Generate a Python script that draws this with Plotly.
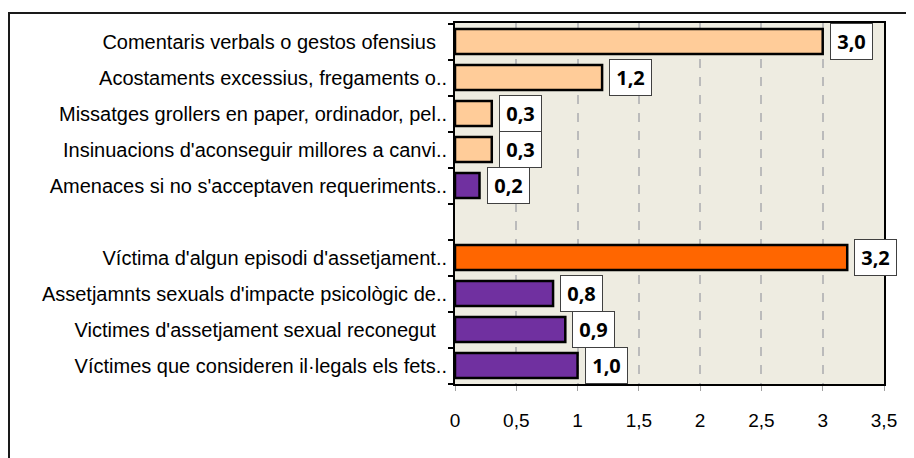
import plotly.graph_objects as go

categories = [
    "Comentaris verbals o gestos ofensius",
    "Acostaments excessius, fregaments o..",
    "Missatges grollers en paper, ordinador, pel..",
    "Insinuacions d'aconseguir millores a canvi..",
    "Amenaces si no s'acceptaven requeriments..",
    " ",
    "Víctima d'algun episodi d'assetjament..",
    "Assetjamnts sexuals d'impacte psicològic de..",
    "Victimes d'assetjament sexual reconegut",
    "Víctimes que consideren il·legals els fets..",
]
values = [3.0, 1.2, 0.3, 0.3, 0.2, None, 3.2, 0.8, 0.9, 1.0]
value_labels = ["3,0", "1,2", "0,3", "0,3", "0,2", "", "3,2", "0,8", "0,9", "1,0"]
colors = ["#FFCC99", "#FFCC99", "#FFCC99", "#FFCC99", "#7030A0", "#FFFFFF",
          "#FF6600", "#7030A0", "#7030A0", "#7030A0"]
x_ticks = [0, 0.5, 1, 1.5, 2, 2.5, 3, 3.5]
x_tick_labels = ["0", "0,5", "1", "1,5", "2", "2,5", "3", "3,5"]

# labels that are not truncated end a little further from the axis
tick_text = [c if c.endswith("..") or c.strip() == "" else c + "\u00a0\u00a0" for c in categories]

# page body has an 8px margin; figure sized to fit the window inside it
W, H = 906, 450
ML, MR, MT, MB = 447, 30, 15, 74
pw, ph = W - ML - MR, H - MT - MB

fig = go.Figure()
fig.add_trace(go.Bar(
    y=categories, x=values, orientation="h",
    marker=dict(color=colors, line=dict(color="#000000", width=2.5)),
    width=0.7, showlegend=False, hoverinfo="skip",
))

for c, v, t in zip(categories, values, value_labels):
    if v is None:
        continue
    fig.add_annotation(
        x=v, y=c, xref="x", yref="y", text=t, showarrow=False,
        xanchor="left", yanchor="middle", xshift=7,
        width=41, height=35, align="center", valign="middle",
        bgcolor="#FFFFFF", bordercolor="#404040", borderwidth=1, borderpad=0,
        font=dict(family="Open Sans", size=20, color="#000000", weight="bold"),
    )

# outer chart border (extends beyond the window on the right and bottom)
fig.add_shape(
    type="rect", xref="paper", yref="paper",
    x0=(1 - ML) / pw, x1=(930 - ML) / pw,
    y0=(H - MB - 470) / ph, y1=(H - MB - 5) / ph,
    line=dict(color="#1a1a1a", width=2), fillcolor="rgba(0,0,0,0)", layer="below",
)

fig.update_layout(
    width=W, height=H,
    margin=dict(l=ML, r=MR, t=MT, b=MB, autoexpand=False),
    paper_bgcolor="#FFFFFF", plot_bgcolor="#EEECE1",
    separators=",.",
    bargap=0.3,
    font=dict(family="Liberation Sans, Arial", size=19, color="#000000"),
    xaxis=dict(
        range=[0, 3.5], tickmode="array", tickvals=x_ticks, ticktext=x_tick_labels,
        showgrid=True, gridcolor="#BBBBBB", griddash="dash", gridwidth=1.6,
        zeroline=False, showline=True, linecolor="#000000", linewidth=2, mirror=True,
        ticks="outside", ticklen=5, tickcolor="#A0A0A0", tickwidth=1,
        ticklabelstandoff=13, tickfont=dict(size=19),
    ),
    yaxis=dict(
        categoryorder="array", categoryarray=categories, autorange="reversed",
        tickmode="array", tickvals=categories, ticktext=tick_text,
        showgrid=False, zeroline=False, showline=True, linecolor="#000000",
        linewidth=2, mirror=True, ticks="outside", ticklen=5, tickwidth=2,
        tickcolor="#000000", tickson="boundaries", ticklabelstandoff=2,
        tickfont=dict(size=20),
    ),
)

fig.write_html("out.html")
